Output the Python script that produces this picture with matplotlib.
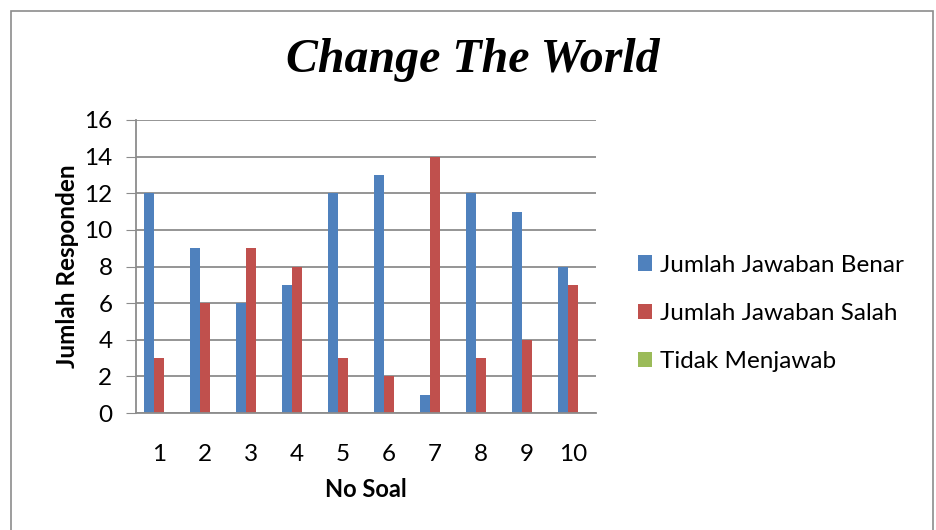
import numpy as np
import matplotlib.pyplot as plt
from matplotlib.patches import Rectangle

soal = ['1', '2', '3', '4', '5', '6', '7', '8', '9', '10']
benar = [12, 9, 6, 7, 12, 13, 1, 12, 11, 8]
salah = [3, 6, 9, 8, 3, 2, 14, 3, 4, 7]
tidak = [0, 0, 0, 0, 0, 0, 0, 0, 0, 0]

plt.rcParams['font.family'] = ['Lato', 'DejaVu Sans']

fig = plt.figure(figsize=(9.36, 5.30), dpi=100)
# chart frame
fig.patches.append(Rectangle((11 / 936, -0.05), 922 / 936, 1.05 - 11 / 530,
                             transform=fig.transFigure, fill=False,
                             edgecolor='#8c8c8c', linewidth=1.2))

ax = fig.add_axes([136 / 936, 1 - 413 / 530, 460 / 936, 293 / 530])

x = np.arange(len(soal))
w = 0.215
ax.bar(x - w, benar, w, color='#4f81bd', label='Jumlah Jawaban Benar')
ax.bar(x, salah, w, color='#c0504d', label='Jumlah Jawaban Salah')
ax.bar(x + w, tidak, w, color='#9bbb59', label='Tidak Menjawab')

ax.set_xlim(-0.5, 9.5)
ax.set_ylim(0, 16)
ax.set_yticks(range(0, 17, 2))
ax.set_xticks(x)
ax.set_xticklabels(soal)
ax.yaxis.grid(True, color='#8c8c8c', linewidth=1.3)
ax.set_axisbelow(True)
for s in ['top', 'right']:
    ax.spines[s].set_visible(False)
ax.spines['left'].set_color('#8c8c8c')
ax.spines['bottom'].set_color('#8c8c8c')
ax.spines['left'].set_linewidth(1.3)
ax.spines['bottom'].set_linewidth(1.3)
ax.tick_params(axis='y', length=7, color='#8c8c8c', labelsize=17.5, pad=10)
ax.tick_params(axis='x', length=0, labelsize=17.5, pad=22)

ax.set_xlabel('No Soal', fontsize=17, fontweight='bold', labelpad=10)
ax.set_ylabel('Jumlah Responden', fontsize=17.5, fontweight='bold', labelpad=4)

fig.text(473 / 936, 1 - 60 / 530, 'Change The World', ha='center', va='center',
         fontsize=34.5, fontweight='bold', fontstyle='italic', family='Liberation Serif')

ax.legend(loc='center left', bbox_to_anchor=(1.043, 0.34), frameon=False,
          fontsize=17.5, handlelength=0.6, handleheight=0.6, handletextpad=0.3,
          labelspacing=1.12)

fig.savefig('out.png', dpi=100)
